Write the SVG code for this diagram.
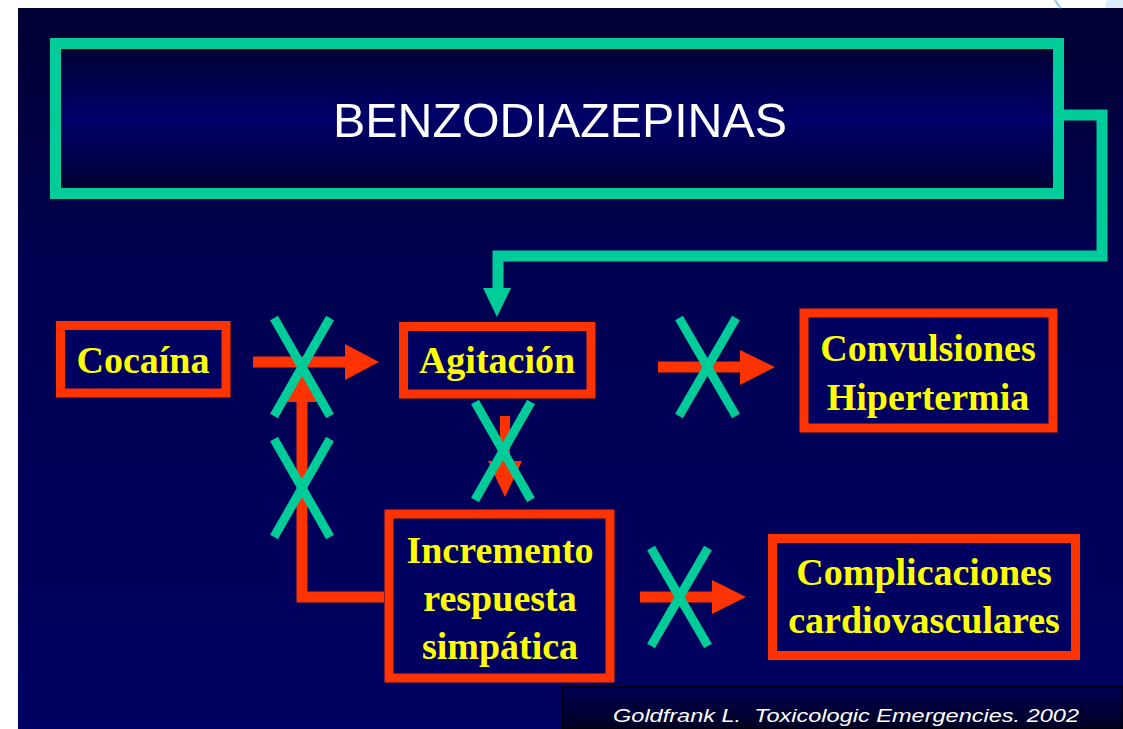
<svg xmlns="http://www.w3.org/2000/svg" width="1123" height="729" viewBox="0 0 1123 729">
<defs>
<linearGradient id="bg" x1="0" y1="0" x2="0" y2="1">
<stop offset="0" stop-color="#000033"/>
<stop offset="0.35" stop-color="#000050"/>
<stop offset="1" stop-color="#000062"/>
</linearGradient>
<linearGradient id="titlebg" x1="0" y1="0" x2="0" y2="1">
<stop offset="0" stop-color="#000030"/>
<stop offset="0.5" stop-color="#00006a"/>
<stop offset="1" stop-color="#000030"/>
</linearGradient>
<linearGradient id="footbg" x1="0" y1="0" x2="0" y2="1">
<stop offset="0" stop-color="#000052"/>
<stop offset="1" stop-color="#000022"/>
</linearGradient>
<style>
.box{fill:#000060;stroke:#ff3300;stroke-width:9}
.lbl{font-family:"Liberation Serif","Times New Roman",serif;font-weight:bold;font-size:38px;fill:#ffff00;text-anchor:middle}
.red{stroke:#ff3300;fill:none;stroke-width:11}
.redf{fill:#ff3300}
.x{stroke:#00cc99;stroke-width:9;fill:none}
.grn{stroke:#00cc99;fill:none;stroke-width:11}
</style>
</defs>
<rect x="0" y="0" width="1123" height="729" fill="#ffffff"/>
<rect x="18" y="8" width="1105" height="721" fill="url(#bg)"/>
<path d="M1055,0 Q1057,4 1061,8" stroke="#88ccee" stroke-width="2" fill="none"/>
<path d="M1106,8 Q1104,3 1108,0 L1123,0 L1123,8 Z" fill="#ddeefa"/>

<g id="title">
<rect x="55.5" y="43.5" width="1003" height="150" fill="url(#titlebg)" stroke="#00cc99" stroke-width="11"/>
<text x="560" y="137" font-family="Liberation Sans, Arial, sans-serif" font-size="49" fill="#ffffff" text-anchor="middle" textLength="454" lengthAdjust="spacingAndGlyphs">BENZODIAZEPINAS</text>
</g>

<g id="connectors">
<polyline class="grn" points="1064,115 1102,115 1102,256 498,256 498,290"/>
<polygon points="483,288 511,288 497,317" fill="#00cc99"/>

<line class="red" x1="253" y1="362" x2="346" y2="362"/>
<polygon class="redf" points="345,344 379,362 345,380"/>

<polyline class="red" points="384,597 302,597 302,400"/>
<polygon class="redf" points="287,402 318,402 302,362"/>

<line x1="505" y1="416" x2="505" y2="463" stroke="#ff3300" stroke-width="10"/>
<polygon class="redf" points="488,461 522,461 505,497"/>

<line class="red" x1="658" y1="367" x2="741" y2="367"/>
<polygon class="redf" points="740,350 775,367 740,385"/>

<line class="red" x1="640" y1="597" x2="713" y2="597"/>
<polygon class="redf" points="712,580 746,597 712,614"/>

<line class="x" x1="274" y1="318" x2="330" y2="416"/>
<line class="x" x1="330" y1="318" x2="274" y2="416"/>
<line class="x" x1="274" y1="439" x2="330" y2="537"/>
<line class="x" x1="330" y1="439" x2="274" y2="537"/>
<line class="x" x1="475" y1="402" x2="531" y2="500"/>
<line class="x" x1="531" y1="402" x2="475" y2="500"/>
<line class="x" x1="679" y1="318" x2="736" y2="416"/>
<line class="x" x1="736" y1="318" x2="679" y2="416"/>
<line class="x" x1="651" y1="548" x2="708" y2="646"/>
<line class="x" x1="708" y1="548" x2="651" y2="646"/>
</g>

<g id="cocaina">
<rect class="box" x="60.5" y="325.5" width="165.5" height="67.5"/>
<text class="lbl" x="143" y="373">Cocaína</text>
</g>

<g id="agitacion">
<rect class="box" x="403.5" y="326.5" width="187.5" height="67.5"/>
<text class="lbl" x="497" y="373">Agitación</text>
</g>

<g id="convulsiones">
<rect class="box" x="804" y="313" width="249" height="115"/>
<text class="lbl" x="928" y="361">Convulsiones</text>
<text class="lbl" x="928" y="410">Hipertermia</text>
</g>

<g id="incremento">
<rect class="box" x="389" y="514" width="221" height="164"/>
<text class="lbl" x="500" y="563">Incremento</text>
<text class="lbl" x="500" y="611">respuesta</text>
<text class="lbl" x="500" y="659">simpática</text>
</g>

<g id="complicaciones">
<rect class="box" x="772.5" y="538.5" width="303" height="117"/>
<text class="lbl" x="924" y="585">Complicaciones</text>
<text class="lbl" x="924" y="633">cardiovasculares</text>
</g>

<g id="footer">
<rect x="562" y="687" width="561" height="42" fill="url(#footbg)" stroke="#000000" stroke-width="1.5"/>
<text x="613" y="722" xml:space="preserve" style="white-space:pre" font-family="Liberation Sans, Arial, sans-serif" font-style="italic" font-size="19" fill="#ffffff" textLength="466" lengthAdjust="spacingAndGlyphs">Goldfrank L.  Toxicologic Emergencies. 2002</text>
</g>
</svg>
